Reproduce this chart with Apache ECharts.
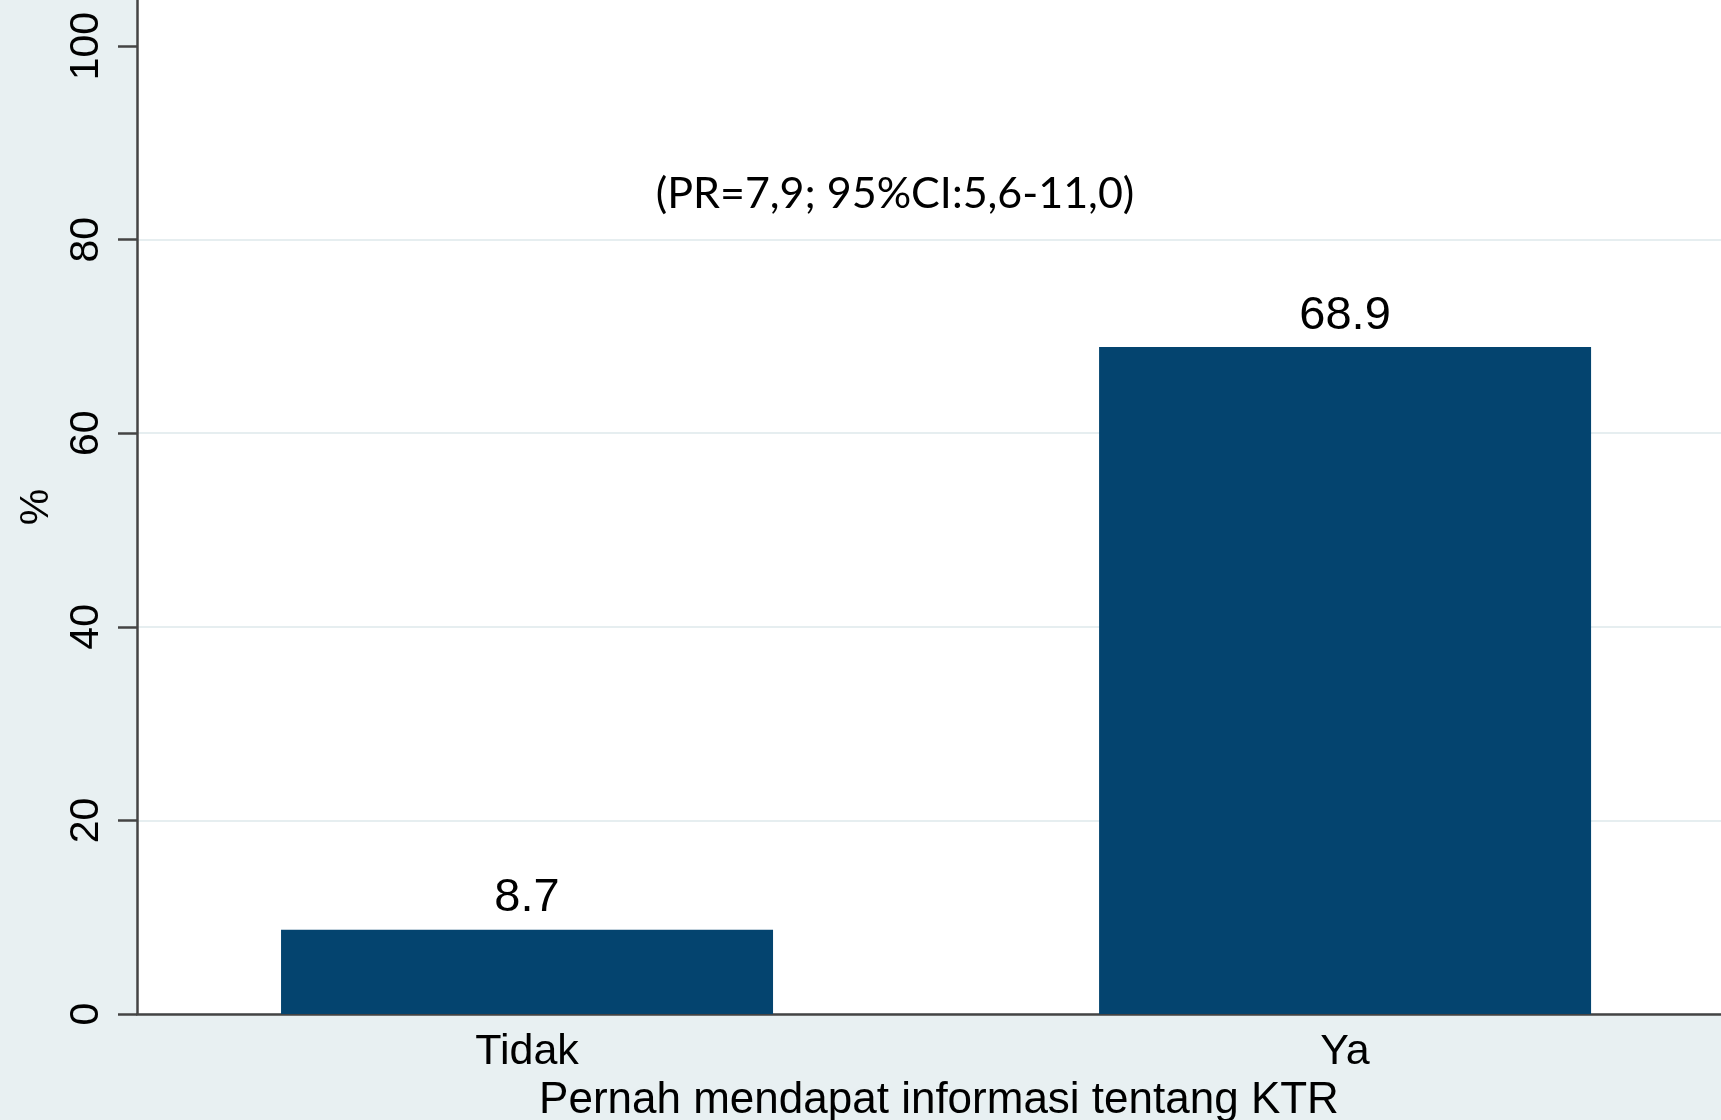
<!DOCTYPE html>
<html><head><meta charset="utf-8">
<script src="https://cdn.jsdelivr.net/npm/echarts@6/dist/echarts.min.js"></script>
<style>html,body{margin:0;padding:0;background:#e8f0f2}#c{width:1721px;height:1120px}</style>
</head><body><div id="c"></div>
<script>
const categories = ['Tidak', 'Ya'];
const percentValues = [8.7, 68.9];
const categoryPositions = [1, 2];
const yTickValues = [0, 20, 40, 60, 80, 100];
const xAxisTitle = 'Pernah mendapat informasi tentang KTR';
const yAxisTitle = '%';
const annotationText = '(PR=7,9; 95%CI:5,6-11,0)';

const FONT = '"Liberation Sans", Arial, Helvetica, sans-serif';
const axisColor = '#444444';
const gridColor = '#e6eef0';
const chart = echarts.init(document.getElementById('c'), null, {renderer: 'canvas'});
chart.setOption({
  animation: false,
  backgroundColor: '#e8f0f2',
  textStyle: {fontFamily: FONT},
  grid: {left: 137, width: 1604, top: 0, bottom: 106, show: true, backgroundColor: '#ffffff', borderWidth: 0,
    containLabel: false, outerBoundsMode: 'none'},
  xAxis: {
    type: 'value', min: 0.5232, max: 2.484,
    axisLine: {show: true, onZero: true, lineStyle: {color: axisColor, width: 2.5}},
    axisTick: {show: false},
    splitLine: {show: false},
    axisLabel: {
      customValues: categoryPositions, margin: 17, fontSize: 43, color: '#000', fontFamily: FONT,
      formatter: v => categories[categoryPositions.indexOf(Math.round(v))] || ''
    },
    name: xAxisTitle, nameLocation: 'middle', nameGap: 62,
    nameTextStyle: {fontSize: 44, color: '#000', fontFamily: FONT}
  },
  yAxis: {
    type: 'value', min: 0, max: 104.76, interval: 20,
    axisLine: {show: true, lineStyle: {color: axisColor, width: 2.5}},
    axisTick: {show: true, length: 19, customValues: yTickValues, lineStyle: {color: axisColor, width: 2.5}},
    axisLabel: {customValues: yTickValues, rotate: 90, margin: 30, fontSize: 41, color: '#000', fontFamily: FONT},
    splitLine: {show: true, lineStyle: {width: 2, color: [gridColor, gridColor, gridColor, gridColor, gridColor, 'rgba(0,0,0,0)', 'rgba(0,0,0,0)']}},
    name: yAxisTitle, nameLocation: 'middle', nameGap: 80, nameRotate: 90,
    nameTextStyle: {fontSize: 41, color: '#000', fontFamily: FONT}
  },
  graphic: [{
    type: 'text', x: 895, y: 194,
    style: {text: annotationText, textAlign: 'center', textVerticalAlign: 'middle', font: '43px Lato', fill: '#000'}
  }],
  series: [{
    type: 'bar',
    data: categoryPositions.map((x, i) => [x, percentValues[i]]),
    barWidth: 492,
    itemStyle: {color: '#04446f'},
    label: {show: true, position: 'top', distance: 8, fontSize: 47, color: '#000', fontFamily: FONT,
      formatter: p => p.value[1].toFixed(1)}
  }]
});
</script></body></html>
